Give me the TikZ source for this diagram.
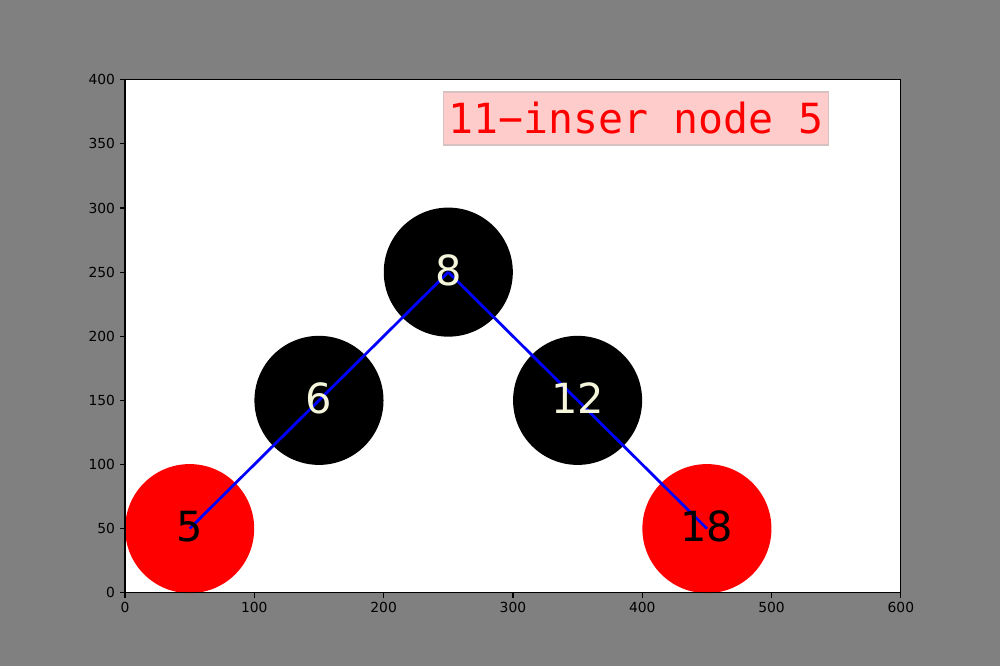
\documentclass[tikz,border=0pt]{standalone}
\usepackage{fontspec}
\setmainfont{DejaVu Sans}
\newfontfamily\titlefont{DejaVu Sans Mono}
\usepackage{xcolor}
\usepackage{tikz}
\usetikzlibrary{positioning}

\definecolor{figgray}{HTML}{808080}
\definecolor{lblcream}{HTML}{F5F5DC}
\definecolor{titlebg}{HTML}{FFCCCC}
\definecolor{titleedge}{HTML}{D6C2C2}

\begin{document}
\begin{tikzpicture}[x=0.01in, y=0.01in,
  rbnode/.style={circle, minimum size=1.29in, inner sep=0pt},
  blknode/.style={rbnode, fill=black},
  rednode/.style={rbnode, fill=red},
  keylbl/.style={inner sep=0pt, font=\fontsize{30}{36}\selectfont},
  treeline/.style={blue, line width=2pt},
  axtick/.style={line width=0.8pt},
  ticklbl/.style={inner sep=0pt, font=\fontsize{10}{12}\selectfont}]
% figure and axes background
\fill[figgray] (0,0) rectangle (1000,666);
\useasboundingbox (0,0) rectangle (1000,666);
\fill[white] (125,73.26) rectangle (900,586.08);
\begin{scope}[shift={(125,73.26)}, x=0.0129167in, y=0.0128205in]
% circles
\node[blknode] (n8) at (250,250) {};
\node[blknode] (n6) at (150,150) {};
\node[blknode] (n12) at (350,150) {};
\node[rednode] (n5) at (50,50) {};
\node[rednode] (n18) at (450,50) {};
% links
\draw[treeline] (n8.center) -- (n6.center);
\draw[treeline] (n6.center) -- (n5.center);
\draw[treeline] (n8.center) -- (n12.center);
\draw[treeline] (n12.center) -- (n18.center);
% keys
\node[keylbl, text=lblcream] (k8) at ([yshift=1.5pt]n8) {8};
\node[keylbl, text=lblcream] (k6) at ([yshift=1.5pt]n6) {6};
\node[keylbl, text=lblcream] (k12) at ([yshift=1.5pt]n12) {12};
\node[keylbl, text=black] (k5) at ([yshift=1.5pt]n5) {5};
\node[keylbl, text=black] (k18) at ([yshift=1.5pt]n18) {18};
% title
\node[fill=titlebg, draw=titleedge, line width=1pt, minimum width=3.85in, minimum height=0.53in,
  inner sep=0pt, text=red, font=\titlefont\fontsize{30}{36}\selectfont] (ttl) at (395.2,369.9) {11−inser node 5};
% frame and ticks
\draw[axtick] (0,0) rectangle (600,400);
\foreach \v in {0,100,...,600}{
  \draw[axtick] (\v,0) -- ++(0pt,-3.5pt) coordinate (xt\v);
  \node[ticklbl, below=3.5pt of xt\v] {\v};
}
\foreach \v in {0,50,...,400}{
  \draw[axtick] (0,\v) -- ++(-3.5pt,0pt) coordinate (yt\v);
  \node[ticklbl, left=3.5pt of yt\v] {\v};
}
\end{scope}
\end{tikzpicture}
\end{document}
